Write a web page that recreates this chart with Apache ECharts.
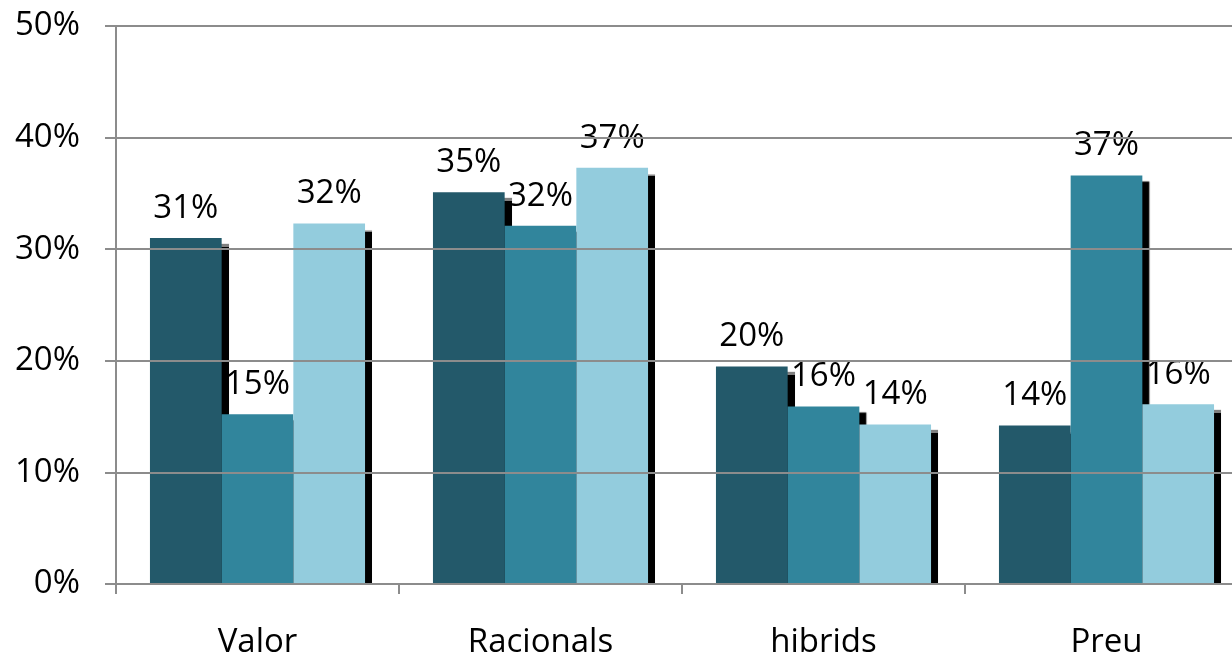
<!DOCTYPE html>
<html>
<head>
<meta charset="utf-8">
<script src="https://cdn.jsdelivr.net/npm/echarts@6/dist/echarts.min.js"></script>
<style>
  html, body { margin: 0; padding: 0; background: #fff; overflow: hidden; }
  #chart { width: 1248px; height: 660px; }
</style>
</head>
<body>
<div id="chart"></div>
<script>
// categories and values (percent)
const categories = ["Valor", "Racionals", "hibrids", "Preu"];
const serieA = [31.0, 35.1, 19.5, 14.2];
const serieB = [15.2, 32.1, 15.9, 36.6];
const serieC = [32.3, 37.3, 14.3, 16.1];
const colors = ["#23596A", "#31859C", "#93CCDD"];

const font = "'Open Sans', sans-serif";
const axisGray = "#8c8c8c";

const makeSerie = (data, color) => ({
  type: "bar",
  data,
  z: 2,
  barGap: "0%",
  barCategoryGap: "24%",
  itemStyle: {
    color,
    shadowColor: "#000",
    shadowOffsetX: 7,
    shadowOffsetY: 6,
    shadowBlur: 1,
  },
  label: {
    show: true,
    position: "top",
    distance: 13,
    fontFamily: font,
    fontSize: 33,
    color: "#000",
    formatter: (p) => Math.round(p.value) + "%",
  },
});

const chart = echarts.init(document.getElementById("chart"), null, { renderer: "canvas" });
chart.setOption({
  animation: false,
  backgroundColor: "#fff",
  grid: { left: 116, top: 26, right: 0, height: 558 },
  // white strip hiding the shadow under the baseline
  graphic: [{
    type: "rect",
    z: 5,
    shape: { x: 117, y: 585, width: 1140, height: 12 },
    style: { fill: "#fff" },
  }],
  xAxis: {
    type: "category",
    data: categories,
    z: 10,
    axisLine: { lineStyle: { color: axisGray, width: 2 } },
    axisTick: { show: true, length: 10, lineStyle: { color: axisGray, width: 2 } },
    axisLabel: { margin: 42, fontFamily: font, fontSize: 33, color: "#000" },
  },
  yAxis: {
    type: "value",
    min: 0,
    max: 50,
    interval: 10,
    z: 10,
    axisLine: { show: true, lineStyle: { color: axisGray, width: 2 } },
    axisTick: { show: true, length: 11, lineStyle: { color: axisGray, width: 2 } },
    axisLabel: { margin: 36, fontFamily: font, fontSize: 33, color: "#000", formatter: "{value}%" },
    splitLine: { lineStyle: { color: axisGray, width: 2 } },
  },
  series: [
    makeSerie(serieA, colors[0]),
    makeSerie(serieB, colors[1]),
    makeSerie(serieC, colors[2]),
  ],
});
</script>
</body>
</html>
